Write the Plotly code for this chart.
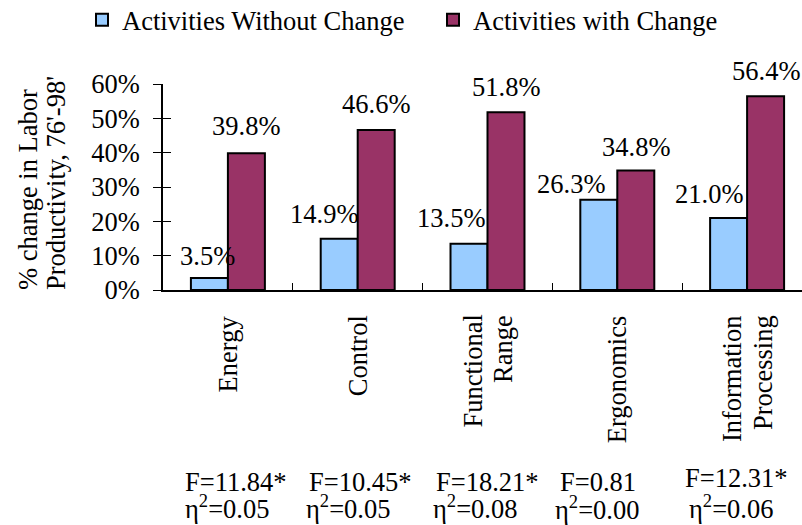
import plotly.graph_objects as go

# ---------------- data ----------------
categories = ["Energy", "Control", "Functional Range", "Ergonomics", "Information Processing"]
category_lines = [["Energy"], ["Control"], ["Functional", "Range"], ["Ergonomics"], ["Information", "Processing"]]
without_change = [3.5, 14.9, 13.5, 26.3, 21.0]
with_change = [39.8, 46.6, 51.8, 34.8, 56.4]
f_values = [11.84, 10.45, 18.21, 0.81, 12.31]
f_significant = [True, True, True, False, True]
eta_squared = [0.05, 0.05, 0.08, 0.00, 0.06]
series_names = ["Activities Without Change", "Activities with Change"]
y_ticks = [0, 10, 20, 30, 40, 50, 60]
y_tick_labels = [f"{v}%" for v in y_ticks]

# ---------------- style ----------------
FONT = "Liberation Serif"
FS = 26.5
BLUE = "#99CCFF"
MAROON = "#993366"
W, H = 802, 525
M_L, M_R, M_T, M_B = 163, 0, 84, 235
CAT_PX = 129.8
BAR_HALF = 18.5
# label placement tweaks (pixels)
blue_label_dx = [-2, -15, -18, -28, -20]
blue_label_dy = [22, 25, 26, 16, 24]
maroon_label_dy = [27, 26, 25, 24, 25]
f_dx = [-45, -51, -54, -59, -64]
eta_dx = [-45, -54, -57, -64, -60]
f_y = [482, 482, 482, 482, 478]
eta_y = [507, 507, 507, 508, 507]
legend_x = [82, 433]

plot_w = W - M_L - M_R
x_max = -0.5 + plot_w / CAT_PX
plot_h = H - M_T - M_B


def py(pix):
    """pixel row -> paper y"""
    return (H - M_B - pix) / plot_h


def tfont():
    return dict(family=FONT, size=FS, color="black")


fig = go.Figure()
fig.add_trace(go.Bar(x=categories, y=without_change, name=series_names[0], legend="legend",
                     marker=dict(color=BLUE, line=dict(color="black", width=2))))
fig.add_trace(go.Bar(x=categories, y=with_change, name=series_names[1], legend="legend2",
                     marker=dict(color=MAROON, line=dict(color="black", width=2))))
fig.add_trace(go.Scatter(x=[categories[0]], y=[0], yaxis="y2", mode="markers", showlegend=False,
                         hoverinfo="skip", marker=dict(opacity=0)))

ann = []
for i, c in enumerate(categories):
    ann.append(dict(x=c, y=without_change[i], xref="x", yref="y", text=f"{without_change[i]:.1f}%",
                    showarrow=False, xshift=-BAR_HALF + blue_label_dx[i], yshift=blue_label_dy[i],
                    yanchor="middle", xanchor="center", font=tfont()))
    ann.append(dict(x=c, y=with_change[i], xref="x", yref="y", text=f"{with_change[i]:.1f}%",
                    showarrow=False, xshift=BAR_HALF, yshift=maroon_label_dy[i],
                    yanchor="middle", xanchor="center", font=tfont()))
    lines = category_lines[i]
    n = len(lines)
    for j, ln in enumerate(lines):
        ann.append(dict(x=c, y=0, xref="x", yref="paper", text=ln, textangle=-90,
                        showarrow=False, xanchor="center", yanchor="top",
                        xshift=(j - (n - 1) / 2) * 31, yshift=-23, font=tfont()))
    ftxt = f"F={f_values[i]:.2f}" + ("*" if f_significant[i] else "")
    ann.append(dict(x=c, y=py(f_y[i]), xref="x", yref="paper", text=ftxt, showarrow=False,
                    xanchor="left", yanchor="middle", xshift=f_dx[i], font=tfont()))
    ann.append(dict(x=c, y=py(eta_y[i]), xref="x", yref="paper",
                    text=f"η<sup>2</sup>={eta_squared[i]:.2f}", showarrow=False,
                    xanchor="left", yanchor="middle", xshift=eta_dx[i], font=tfont()))

# y-axis title (two lines, bottom aligned)
ytitle = ["% change in Labor", "Productivity, 76'-98'"]
for t, xc in zip(ytitle, [27.5, 56]):
    ann.append(dict(x=(xc - M_L) / plot_w, y=py(292), xref="paper", yref="paper", text=t,
                    textangle=-90, showarrow=False, xanchor="center", yanchor="bottom", font=tfont()))


def legend_cfg(xpix):
    return dict(orientation="h", xref="container", yref="container", x=xpix / W, y=1 - 20 / H,
                xanchor="left", yanchor="middle", font=tfont(),
                bgcolor="rgba(0,0,0,0)", itemclick=False)


fig.update_layout(
    width=W, height=H,
    margin=dict(l=M_L, r=M_R, t=M_T, b=M_B, pad=0, autoexpand=False),
    paper_bgcolor="white", plot_bgcolor="white",
    barmode="group", bargap=0.43, bargroupgap=0,
    font=tfont(),
    showlegend=True,
    legend=legend_cfg(legend_x[0]),
    legend2=legend_cfg(legend_x[1]),
    xaxis=dict(type="category", range=[-0.5, x_max], showline=True, linecolor="black", linewidth=1.5,
               ticks="inside", tickson="boundaries", ticklen=7, tickcolor="black", tickwidth=1,
               showticklabels=False, showgrid=False, zeroline=False, fixedrange=True),
    yaxis=dict(range=[0, 60], tickmode="array", tickvals=y_ticks, ticktext=y_tick_labels,
               showline=True, linecolor="black",
               linewidth=1.5, ticks="outside", ticklen=8, tickcolor="black", tickwidth=1,
               showgrid=False, zeroline=False, ticklabelstandoff=8,
               tickfont=tfont(), fixedrange=True),
    yaxis2=dict(range=[0, 60], tickmode="array", tickvals=y_ticks, overlaying="y", anchor="x", side="left",
                ticks="inside", ticklen=8, tickcolor="black", tickwidth=1, showticklabels=False,
                showline=False, showgrid=False, zeroline=False, fixedrange=True),
    annotations=ann,
)

fig.write_html("out.html", config={"displayModeBar": False},
               post_script="document.body.style.margin='0';document.body.style.padding='0';")
